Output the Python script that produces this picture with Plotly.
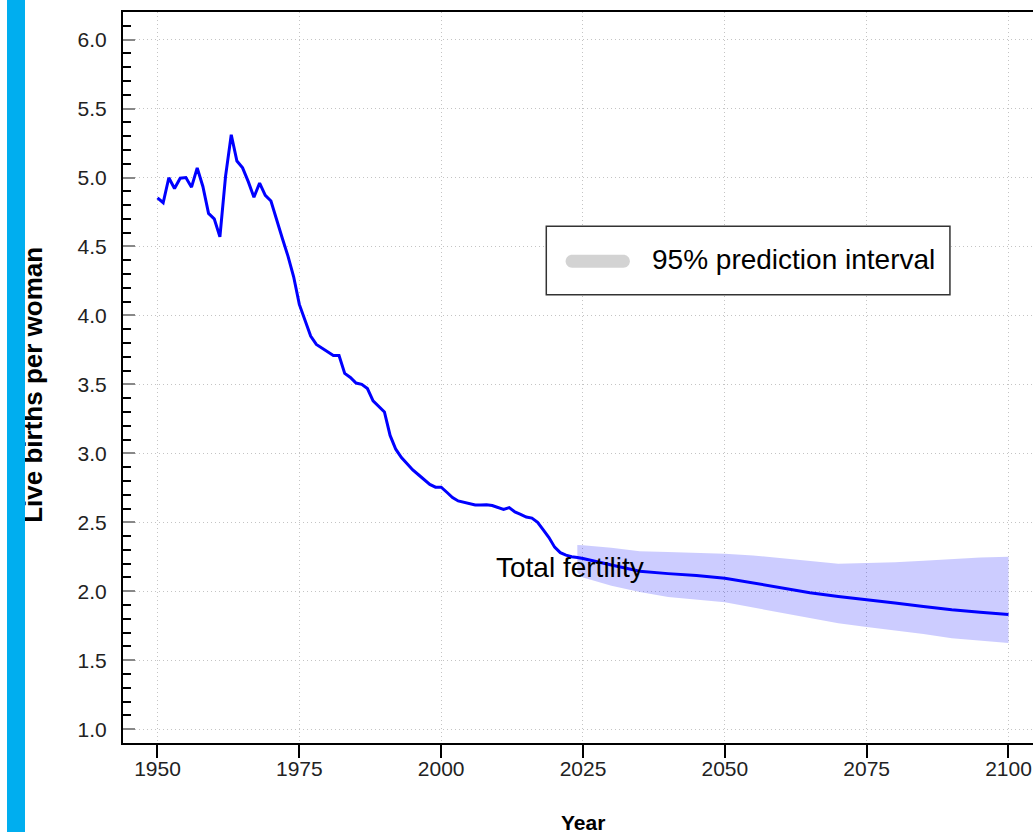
import plotly.graph_objects as go

# ---- data ----
hist_years = list(range(1950, 2024))
hist_tfr = [
    4.853, 4.817, 4.998, 4.92, 4.995, 5.0, 4.93, 5.07, 4.935, 4.74,   # 1950-59
    4.70, 4.57, 5.01, 5.31, 5.12, 5.07, 4.97, 4.857, 4.96, 4.87,      # 1960-69
    4.83, 4.69, 4.56, 4.43, 4.28, 4.08, 3.96, 3.85, 3.79, 3.765,      # 1970-79
    3.74, 3.71, 3.71, 3.58, 3.55, 3.51, 3.50, 3.47, 3.38, 3.34,       # 1980-89
    3.30, 3.13, 3.03, 2.97, 2.925, 2.88, 2.845, 2.81, 2.775, 2.755,   # 1990-99
    2.755, 2.718, 2.68, 2.655, 2.645, 2.632, 2.625, 2.625, 2.628, 2.622,  # 2000-09
    2.605, 2.593, 2.607, 2.575, 2.558, 2.538, 2.531, 2.50, 2.445, 2.39,   # 2010-19
    2.32, 2.28, 2.262, 2.25,                                          # 2020-23
]

proj_years = [2024, 2025, 2030, 2035, 2040, 2045, 2050, 2055, 2060, 2065,
              2070, 2075, 2080, 2085, 2090, 2095, 2100]
proj_median = [2.245, 2.237, 2.19, 2.145, 2.128, 2.115, 2.095, 2.06, 2.025, 1.99,
               1.962, 1.94, 1.915, 1.89, 1.866, 1.848, 1.832]
proj_upper = [2.335, 2.333, 2.315, 2.29, 2.285, 2.28, 2.273, 2.26, 2.24, 2.215,
              2.2, 2.205, 2.21, 2.222, 2.235, 2.245, 2.25]
proj_lower = [2.135, 2.10, 2.04, 1.995, 1.959, 1.938, 1.92, 1.882, 1.845, 1.805,
              1.768, 1.741, 1.718, 1.69, 1.66, 1.64, 1.625]

x_ticks = [1950, 1975, 2000, 2025, 2050, 2075, 2100]
y_ticks = [1.0, 1.5, 2.0, 2.5, 3.0, 3.5, 4.0, 4.5, 5.0, 5.5, 6.0]

FONT = "Arial, 'Liberation Sans', sans-serif"
GRID = "#c4c4c4"

fig = go.Figure()

# prediction band
fig.add_trace(go.Scatter(x=proj_years, y=proj_upper, mode="lines",
                         line=dict(width=0, color="rgba(0,0,255,0)"),
                         showlegend=False, hoverinfo="skip"))
fig.add_trace(go.Scatter(x=proj_years, y=proj_lower, mode="lines",
                         line=dict(width=0, color="rgba(0,0,255,0)"),
                         fill="tonexty", fillcolor="rgba(0,0,255,0.2)",
                         showlegend=False, hoverinfo="skip"))

# total fertility line
fig.add_trace(go.Scatter(x=hist_years + proj_years, y=hist_tfr + proj_median,
                         mode="lines", line=dict(color="#0000FF", width=3),
                         showlegend=False))

# legend (manual)
pill = ("M -25.6 -6.5 L 25.6 -6.5 C 29.2 -6.5 32.1 -3.6 32.1 0 "
        "C 32.1 3.6 29.2 6.5 25.6 6.5 L -25.6 6.5 C -29.2 6.5 -32.1 3.6 -32.1 0 "
        "C -32.1 -3.6 -29.2 -6.5 -25.6 -6.5 Z")
shapes = [
    dict(type="rect", xref="x", yref="y", x0=2018.53, x1=2089.68, y0=4.150, y1=4.647,
         line=dict(color="#333333", width=1.5), fillcolor="white", layer="above"),
    dict(type="path", xref="x", yref="y", xsizemode="pixel", ysizemode="pixel",
         xanchor=2027.6, yanchor=4.393, path=pill,
         fillcolor="#d3d3d3", line=dict(width=0), layer="above"),
]

annotations = [
    dict(text="95% prediction interval", x=2036.8, y=4.405, xref="x", yref="y",
         xanchor="left", yanchor="middle", showarrow=False,
         font=dict(family=FONT, size=28, color="black")),
    dict(text="Total fertility", x=2022.64, y=2.172, xref="x", yref="y",
         xanchor="center", yanchor="middle", showarrow=False,
         font=dict(family=FONT, size=28, color="black")),
    dict(text="<b>Year</b>", x=2025, y=-0.1094, xref="x", yref="paper",
         xanchor="center", yanchor="middle", showarrow=False,
         font=dict(family=FONT, size=21, color="black")),
    dict(text="<b>Live births per woman</b>", x=-0.0985, y=3.5, xref="paper", yref="y",
         xanchor="center", yanchor="middle", textangle=-90, showarrow=False,
         font=dict(family=FONT, size=26, color="black")),
    # left accent bar (drawn on top of the axis title)
    dict(text=" ", x=-0.1174, y=0.5, xref="paper", yref="paper",
         xanchor="center", yanchor="middle", showarrow=False,
         width=18, height=1200, bgcolor="#00AEEF", borderpad=0, borderwidth=0,
         font=dict(size=4)),
]

fig.update_layout(
    width=1033, height=832,
    margin=dict(l=122.5, r=0, t=12, b=89),
    paper_bgcolor="white", plot_bgcolor="white",
    font=dict(family=FONT, size=21, color="#222222"),
    showlegend=False,
    shapes=shapes,
    annotations=annotations,
    xaxis=dict(range=[1943.92, 2104.32], tickvals=x_ticks, ticktext=[str(v) for v in x_ticks],
               ticks="outside", ticklen=13, tickwidth=1.5, tickcolor="black",
               showline=True, linecolor="black", linewidth=2, mirror=True,
               showgrid=True, gridcolor=GRID, gridwidth=1, griddash="1px,3px",
               zeroline=False, ticklabelstandoff=-7,
               tickfont=dict(family=FONT, size=21, color="#222222")),
    yaxis=dict(range=[0.9, 6.2], tickvals=y_ticks, ticktext=[f"{v:.1f}" for v in y_ticks],
               ticks="inside", ticklen=12, tickwidth=1.5, tickcolor="#888888",
               showline=True, linecolor="black", linewidth=2,
               showgrid=True, gridcolor=GRID, gridwidth=1, griddash="1px,3px",
               zeroline=False, ticklabelstandoff=10,
               minor=dict(dtick=0.1, tick0=0, ticks="inside", ticklen=8, tickwidth=1.5,
                          tickcolor="black", showgrid=False),
               tickfont=dict(family=FONT, size=21, color="#222222")),
)

fig.write_html("out.html", config={"displayModeBar": False},
               post_script="document.body.style.margin='0';")
